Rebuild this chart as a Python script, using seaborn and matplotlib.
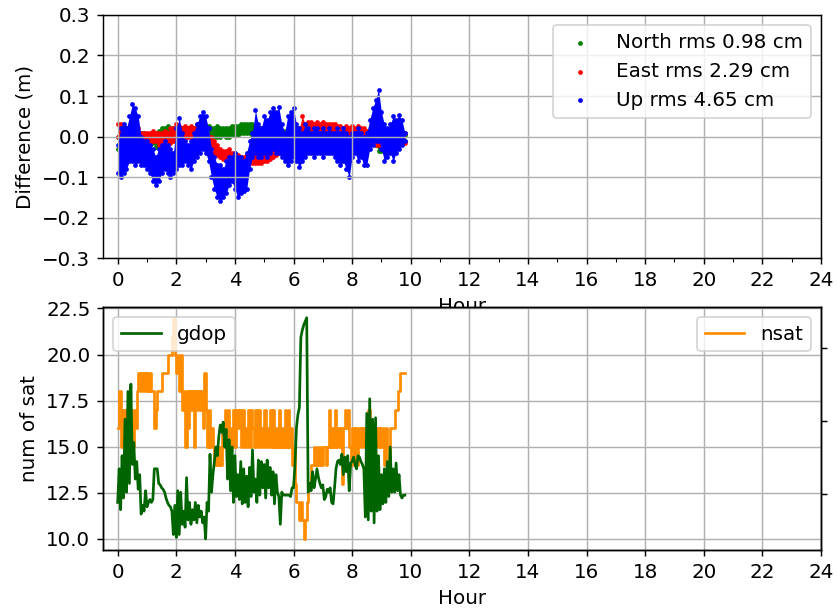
import numpy as np
import pandas as pd
import matplotlib
matplotlib.use("Agg")
import matplotlib.pyplot as plt
import seaborn as sns
from matplotlib.ticker import MultipleLocator

plt.rcParams["font.size"] = 11

# ENU position differences, sampled every 0.1 h: lower / upper edge of the point cloud (m)
hours_enu = np.round(np.arange(99) * 0.1, 1)

north_lo = [-0.03, -0.02, -0.01, -0.005, -0.005, -0.005, -0.005, -0.005, -0.005, -0.01,
            -0.02, -0.02, -0.015, -0.025, -0.015, 0.0, 0.005, 0.005, 0.005, 0.0,
            0.0, 0.0, 0.005, 0.0, 0.005, 0.0, 0.005, 0.0, 0.005, 0.0,
            0.0, 0.005, 0.005, 0.0, 0.0, 0.0, 0.005, 0.0, 0.0, 0.005,
            0.005, 0.005, 0.01, 0.01, 0.01, 0.01, 0.005, 0.0, -0.005, -0.005,
            -0.01, -0.01, -0.01, -0.01, -0.01, -0.01, -0.01, 0.0, -0.01, -0.01,
            -0.01, -0.01, -0.01, -0.01, -0.01, -0.01, -0.01, -0.01, -0.01, -0.01,
            -0.01, -0.01, -0.01, -0.01, -0.01, -0.01, -0.01, -0.01, -0.01, -0.015,
            -0.015, -0.01, -0.01, -0.01, -0.01, -0.01, -0.01, -0.01, -0.02, -0.035,
            -0.035, -0.02, -0.01, -0.01, -0.01, -0.015, -0.02, -0.01, -0.01]
north_hi = [0.0, 0.005, 0.01, 0.01, 0.01, 0.01, 0.01, 0.01, 0.01, 0.01,
            0.005, 0.005, 0.01, 0.01, 0.015, 0.02, 0.02, 0.025, 0.02, 0.02,
            0.02, 0.02, 0.02, 0.02, 0.02, 0.02, 0.02, 0.02, 0.02, 0.02,
            0.02, 0.025, 0.02, 0.02, 0.025, 0.02, 0.02, 0.02, 0.02, 0.025,
            0.025, 0.025, 0.03, 0.03, 0.03, 0.03, 0.03, 0.02, 0.015, 0.02,
            0.015, 0.01, 0.01, 0.01, 0.01, 0.01, 0.01, 0.015, 0.01, 0.01,
            0.01, 0.01, 0.01, 0.01, 0.01, 0.01, 0.01, 0.01, 0.01, 0.01,
            0.01, 0.01, 0.01, 0.01, 0.01, 0.01, 0.01, 0.01, 0.01, 0.005,
            0.005, 0.01, 0.01, 0.01, 0.01, 0.01, 0.01, 0.01, 0.005, 0.0,
            -0.005, 0.005, 0.01, 0.01, 0.01, 0.005, 0.005, 0.01, 0.005]

east_lo = [0.0, -0.01, -0.01, -0.01, -0.01, -0.01, -0.01, -0.01, -0.01, -0.01,
           -0.01, -0.015, -0.01, -0.01, -0.02, -0.015, -0.01, -0.01, -0.015, -0.01,
           -0.005, 0.0, 0.0, -0.005, 0.0, 0.0, -0.005, 0.0, 0.0, -0.005,
           -0.01, -0.02, -0.03, -0.04, -0.045, -0.05, -0.055, -0.05, -0.05, -0.055,
           -0.06, -0.065, -0.07, -0.07, -0.065, -0.06, -0.065, -0.065, -0.065, -0.065,
           -0.06, -0.06, -0.055, -0.05, -0.045, -0.04, -0.035, -0.03, -0.025, -0.015,
           -0.01, -0.01, -0.005, 0.0, 0.005, 0.005, 0.01, 0.01, 0.005, 0.01,
           0.005, 0.01, 0.005, 0.0, 0.005, 0.0, 0.005, 0.0, 0.005, 0.0,
           0.0, -0.005, 0.0, 0.0, -0.005, -0.01, -0.01, -0.015, -0.02, -0.02,
           -0.02, -0.015, -0.015, -0.015, -0.015, -0.015, -0.015, -0.015, -0.015]
east_hi = [0.03, 0.03, 0.02, 0.02, 0.02, 0.02, 0.02, 0.02, 0.01, 0.01,
           0.01, 0.01, 0.015, 0.01, 0.01, 0.01, 0.015, 0.01, 0.02, 0.02,
           0.03, 0.025, 0.02, 0.025, 0.02, 0.025, 0.02, 0.03, 0.02, 0.02,
           0.01, 0.0, 0.0, -0.01, -0.02, -0.03, -0.035, -0.035, -0.03, -0.04,
           -0.04, -0.045, -0.05, -0.05, -0.045, -0.04, -0.045, -0.045, -0.045, -0.04,
           -0.04, -0.035, -0.03, -0.025, -0.02, -0.015, -0.01, -0.005, 0.0, 0.005,
           0.01, 0.015, 0.02, 0.05, 0.03, 0.035, 0.035, 0.03, 0.035, 0.03,
           0.035, 0.03, 0.03, 0.03, 0.03, 0.025, 0.025, 0.02, 0.025, 0.02,
           0.025, 0.02, 0.025, 0.02, 0.02, 0.015, 0.01, 0.01, 0.005, 0.0,
           0.005, 0.01, 0.01, 0.01, 0.01, 0.01, 0.01, 0.01, 0.01]

up_lo = [-0.09, -0.10, -0.09, -0.08, -0.06, -0.06, -0.07, -0.06, -0.07, -0.07,
         -0.08, -0.09, -0.11, -0.12, -0.11, -0.09, -0.08, -0.09, -0.10, -0.09,
         -0.08, -0.07, -0.07, -0.06, -0.07, -0.08, -0.06, -0.05, -0.04, -0.03,
         -0.04, -0.06, -0.10, -0.13, -0.15, -0.16, -0.15, -0.14, -0.12, -0.11,
         -0.13, -0.15, -0.14, -0.135, -0.13, -0.08, -0.05, -0.04, -0.05, -0.05,
         -0.04, -0.05, -0.04, -0.03, -0.04, -0.04, -0.05, -0.06, -0.07, -0.06,
         -0.05, -0.06, -0.075, -0.06, -0.05, -0.04, -0.04, -0.05, -0.04, -0.04,
         -0.05, -0.04, -0.04, -0.04, -0.05, -0.06, -0.07, -0.06, -0.08, -0.10,
         -0.05, -0.04, -0.06, -0.05, -0.07, -0.07, -0.03, -0.02, -0.01, -0.01,
         -0.03, -0.06, -0.05, -0.04, -0.06, -0.04, -0.03, -0.02, -0.01]
up_hi = [-0.02, 0.02, 0.03, 0.02, 0.05, 0.08, 0.07, 0.05, 0.0, -0.01,
         -0.01, -0.02, -0.03, -0.05, -0.03, -0.02, -0.01, -0.02, -0.03, -0.04,
         0.02, 0.045, 0.01, -0.01, -0.02, -0.01, 0.01, 0.03, 0.05, 0.06,
         0.05, 0.02, -0.03, -0.05, -0.07, -0.07, -0.08, -0.06, -0.05, -0.05,
         -0.04, -0.05, -0.05, -0.06, -0.04, -0.01, 0.01, 0.065, 0.03, 0.02,
         0.05, 0.04, 0.06, 0.07, 0.06, 0.072, 0.03, 0.01, 0.05, 0.06,
         0.07, 0.03, 0.02, 0.01, 0.03, 0.02, 0.01, 0.02, 0.02, 0.01,
         0.02, 0.01, 0.02, 0.01, 0.01, 0.02, 0.01, 0.02, 0.01, 0.0,
         0.01, 0.01, 0.02, 0.01, 0.0, 0.01, 0.04, 0.07, 0.09, 0.116,
         0.06, 0.03, 0.02, 0.03, 0.05, 0.04, 0.053, 0.04, 0.01]

north_rms_cm = 0.98
east_rms_cm = 2.29
up_rms_cm = 4.65

# Satellite count and GDOP, sampled every 0.05 h
hours_sat = np.round(np.arange(197) * 0.05, 2)

nsat = [16, 18, 15, 17, 15, 17, 15, 16, 15, 17,
        15, 17, 16, 18, 19, 18, 19, 18, 19, 18,
        19, 18, 19, 18, 18, 16, 17, 18, 18, 18,
        19, 19, 19, 19, 20, 20, 20, 21, 22, 20,
        19, 20, 18, 20, 17, 18, 15, 18, 16, 18,
        17, 18, 15, 18, 17, 18, 17, 18, 16, 19,
        17, 15, 17, 15, 16, 15, 14, 15, 14, 15,
        14, 16, 15, 17, 15, 17, 15, 16, 15, 17,
        15, 17, 16, 17, 15, 17, 15, 16, 15, 17,
        15, 17, 16, 15, 17, 15, 17, 15, 16, 15,
        17, 15, 16, 15, 17, 15, 17, 15, 16, 15,
        17, 15, 16, 15, 17, 15, 17, 15, 16, 14,
        15, 13, 12, 12, 11, 12, 11, 10, 11, 12,
        13, 13, 14, 14, 15, 14, 15, 14, 15, 14,
        15, 15, 14, 15, 17, 15, 16, 15, 17, 15,
        16, 15, 16, 13, 16, 17, 16, 17, 15, 14,
        16, 14, 16, 14, 15, 16, 15, 16, 15, 16,
        15, 17, 15, 16, 15, 16, 15, 16, 15, 16,
        15, 16, 14, 16, 15, 14, 16, 16, 16, 17,
        17, 18, 18, 19, 19, 19, 19]

gdop = [1.44, 1.67, 1.39, 1.76, 1.47, 2.01, 1.51, 2.20, 1.57, 2.25,
        1.70, 1.85, 1.60, 1.72, 1.53, 1.63, 1.36, 1.42, 1.38, 1.52,
        1.41, 1.44, 1.46, 1.44, 1.46, 1.67, 1.67, 1.67, 1.57, 1.56,
        1.54, 1.53, 1.51, 1.47, 1.44, 1.42, 1.41, 1.38, 1.22, 1.42,
        1.20, 1.52, 1.22, 1.51, 1.29, 1.38, 1.27, 1.61, 1.32, 1.44,
        1.29, 1.39, 1.32, 1.44, 1.30, 1.42, 1.34, 1.38, 1.30, 1.34,
        1.19, 1.44, 1.38, 1.77, 1.51, 1.63, 1.72, 1.82, 1.76, 1.89,
        1.97, 1.92, 1.99, 1.82, 1.94, 1.60, 1.87, 1.52, 1.82, 1.44,
        1.76, 1.48, 1.63, 1.46, 1.72, 1.43, 1.67, 1.44, 1.62, 1.41,
        1.68, 1.48, 1.80, 1.51, 1.60, 1.44, 1.73, 1.49, 1.72, 1.54,
        1.70, 1.47, 1.73, 1.54, 1.68, 1.49, 1.65, 1.43, 1.63, 1.51,
        1.48, 1.29, 1.51, 1.49, 1.49, 1.49, 1.49, 1.49, 1.48, 1.54,
        1.54, 1.70, 1.95, 2.04, 2.09, 2.57, 2.62, 2.655, 2.68, 2.705,
        1.51, 1.57, 1.52, 1.65, 1.54, 1.60, 1.67, 1.61, 1.57, 1.54,
        1.56, 1.46, 1.48, 1.53, 1.51, 1.54, 1.44, 1.43, 1.54, 1.67,
        1.72, 1.73, 1.70, 1.77, 1.63, 1.75, 1.65, 1.76, 1.52, 1.71,
        1.72, 1.75, 1.70, 1.67, 1.76, 1.75, 1.72, 1.70, 1.67, 1.34,
        2.05, 1.32, 2.15, 1.38, 2.01, 1.30, 2.02, 1.38, 1.76, 1.39,
        1.63, 1.43, 1.67, 1.44, 1.72, 1.48, 1.82, 1.51, 1.67, 1.51,
        1.71, 1.52, 1.63, 1.49, 1.47, 1.49, 1.49]

DPI = 130
fig = plt.figure(figsize=(837 / DPI, 610 / DPI), dpi=DPI)
ax_top = fig.add_axes([0.1231, 0.5766, 0.8578, 0.3989])
ax_bot = fig.add_axes([0.1231, 0.0984, 0.8578, 0.3989])

# --- top panel: position differences ---
components = [
    (f"North rms {north_rms_cm:.2f} cm", north_lo, north_hi, "g"),
    (f"East rms {east_rms_cm:.2f} cm", east_lo, east_hi, "r"),
    (f"Up rms {up_rms_cm:.2f} cm", up_lo, up_hi, "b"),
]
for label, lo, hi, color in components:
    ax_top.fill_between(hours_enu, lo, hi, color=color, linewidth=0)
    pts = pd.DataFrame({
        "Hour": np.concatenate([hours_enu, hours_enu]),
        "Difference": np.concatenate([lo, hi]),
    })
    sns.scatterplot(data=pts, x="Hour", y="Difference", color=color, s=7,
                    linewidth=0, ax=ax_top, label=label)

ax_top.set_xlim(-0.5, 24)
ax_top.set_ylim(-0.3, 0.3)
ax_top.xaxis.set_major_locator(MultipleLocator(2))
ax_top.xaxis.set_minor_locator(MultipleLocator(1))
ax_top.set_xlabel("Hour")
ax_top.set_ylabel("Difference (m)")
ax_top.grid(True)
ax_top.legend(loc="upper right")

# --- bottom panel: satellite count and GDOP ---
sat_df = pd.DataFrame({"Hour": hours_sat, "nsat": nsat, "gdop": gdop})
sns.lineplot(data=sat_df, x="Hour", y="nsat", color="darkorange", linewidth=1.5,
             drawstyle="steps-post", estimator=None, ax=ax_bot, label="nsat")
ax_bot.set_xlim(-0.5, 24)
ax_bot.xaxis.set_major_locator(MultipleLocator(2))
ax_bot.set_xlabel("Hour")
ax_bot.set_ylabel("num of sat")
ax_bot.grid(True)
ax_bot.legend(loc="upper right")

ax_gdop = ax_bot.twinx()
sns.lineplot(data=sat_df, x="Hour", y="gdop", color="darkgreen", linewidth=1.5,
             estimator=None, ax=ax_gdop, label="gdop")
ax_gdop.set_ylabel("")
ax_gdop.tick_params(axis="y", labelright=False)
ax_gdop.legend(loc="upper left")

fig.savefig("out.png", dpi=DPI)
